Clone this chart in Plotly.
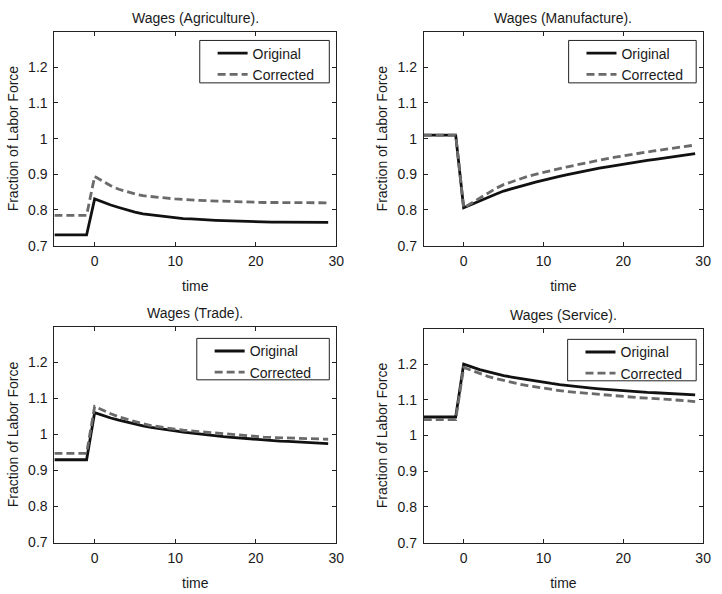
import plotly.graph_objects as go

# ---------------- data ----------------
time = list(range(-5, 30))

agri_original = [0.730]*5 + [0.831, 0.822, 0.814, 0.807, 0.800, 0.794, 0.789, 0.786, 0.783, 0.780,
                             0.778, 0.776, 0.775, 0.773, 0.772, 0.771, 0.770, 0.769, 0.768, 0.768,
                             0.767, 0.767, 0.766, 0.766, 0.766, 0.765, 0.765, 0.765, 0.765, 0.765]
agri_corrected = [0.785]*5 + [0.894, 0.880, 0.868, 0.858, 0.851, 0.845, 0.840, 0.837, 0.835, 0.833,
                              0.831, 0.829, 0.828, 0.827, 0.826, 0.825, 0.824, 0.823, 0.823, 0.822,
                              0.822, 0.821, 0.821, 0.821, 0.820, 0.820, 0.820, 0.820, 0.820, 0.820]

manu_original = [1.010]*5 + [0.806, 0.816, 0.826, 0.835, 0.844, 0.853, 0.860, 0.866, 0.872, 0.878,
                             0.884, 0.889, 0.894, 0.899, 0.904, 0.908, 0.913, 0.917, 0.921, 0.925,
                             0.929, 0.932, 0.936, 0.939, 0.942, 0.945, 0.948, 0.951, 0.955, 0.958]
manu_corrected = [1.010]*5 + [0.806, 0.820, 0.834, 0.847, 0.860, 0.871, 0.879, 0.887, 0.894, 0.900,
                              0.906, 0.911, 0.916, 0.921, 0.926, 0.931, 0.935, 0.939, 0.944, 0.948,
                              0.952, 0.955, 0.959, 0.962, 0.966, 0.969, 0.972, 0.976, 0.979, 0.982]

trade_original = [0.930]*5 + [1.061, 1.053, 1.046, 1.040, 1.034, 1.029, 1.024, 1.020, 1.016, 1.013,
                              1.010, 1.007, 1.004, 1.001, 0.999, 0.996, 0.994, 0.992, 0.990, 0.988,
                              0.987, 0.985, 0.984, 0.982, 0.981, 0.980, 0.979, 0.977, 0.976, 0.975]
trade_corrected = [0.948]*5 + [1.078, 1.067, 1.058, 1.049, 1.042, 1.035, 1.030, 1.025, 1.021, 1.018,
                               1.015, 1.012, 1.010, 1.007, 1.005, 1.003, 1.001, 0.999, 0.997, 0.996,
                               0.994, 0.993, 0.992, 0.991, 0.990, 0.989, 0.988, 0.988, 0.987, 0.987]

serv_original = [1.052]*5 + [1.200, 1.192, 1.185, 1.179, 1.173, 1.168, 1.164, 1.160, 1.156, 1.152,
                             1.149, 1.146, 1.143, 1.140, 1.137, 1.135, 1.133, 1.131, 1.129, 1.127,
                             1.126, 1.124, 1.123, 1.121, 1.120, 1.119, 1.117, 1.116, 1.115, 1.114]
serv_corrected = [1.045]*5 + [1.191, 1.182, 1.174, 1.166, 1.160, 1.154, 1.149, 1.144, 1.140, 1.136,
                              1.132, 1.129, 1.126, 1.123, 1.121, 1.119, 1.117, 1.115, 1.113, 1.111,
                              1.109, 1.108, 1.106, 1.105, 1.104, 1.103, 1.101, 1.099, 1.097, 1.095]

titles = ["Wages (Agriculture).", "Wages (Manufacture).", "Wages (Trade).", "Wages (Service)."]
series_names = ["Original", "Corrected"]
x_ticks = [0, 10, 20, 30]
y_ticks = [0.7, 0.8, 0.9, 1.0, 1.1, 1.2]
y_ticktext = ["0.7", "0.8", "0.9", "1", "1.1", "1.2"]
x_label = "time"
y_label = "Fraction of Labor Force"

# ---------------- figure ----------------
W, H = 722, 594
FONT = "Liberation Sans, Arial, Helvetica, sans-serif"
TXT = "#1a1a1a"

# (data, data, x-pixels of axes box, y-pixels of axes box, legend box x-pixels, legend box y-pixels)
panels = [
    (agri_original, agri_corrected, (55, 340), (32, 249), (202, 333), (41, 84)),
    (manu_original, manu_corrected, (428.5, 711), (32, 249), (575, 704), (41, 84)),
    (trade_original, trade_corrected, (55, 340), (331, 550), (199, 333), (343, 385)),
    (serv_original, serv_corrected, (428.5, 711), (333, 550), (574, 704), (344, 386)),
]

fig = go.Figure()
layout = dict(
    width=W, height=H, autosize=False,
    margin=dict(l=0, r=0, t=0, b=0),
    paper_bgcolor="white", plot_bgcolor="white",
    font=dict(family=FONT, size=14, color=TXT),
    showlegend=True,
    annotations=[],
    shapes=[],
)

for i, (orig, corr, (x0, x1), (y0, y1), (lx0, lx1), (ly0, ly1)) in enumerate(panels):
    n = i + 1
    sfx = "" if n == 1 else str(n)
    leg = "legend" if n == 1 else "legend" + str(n)
    fig.add_trace(go.Scatter(x=time, y=orig, mode="lines", name=series_names[0],
                             line=dict(color="#111111", width=2.8),
                             xaxis="x" + sfx, yaxis="y" + sfx, legend=leg))
    fig.add_trace(go.Scatter(x=time, y=corr, mode="lines", name=series_names[1],
                             line=dict(color="#6a6a6a", width=2.8, dash="8px,4px"),
                             xaxis="x" + sfx, yaxis="y" + sfx, legend=leg))
    common = dict(showline=True, linecolor="#222222", linewidth=1, mirror="ticks",
                  ticks="inside", ticklen=4, tickcolor="#222222", showgrid=False,
                  zeroline=False, tickfont=dict(size=14, color=TXT))
    layout["xaxis" + sfx] = dict(common, domain=[x0 / W, x1 / W], range=[-5, 30],
                                 tickvals=x_ticks, anchor="y" + sfx, ticklabelstandoff=3,
                                 title=dict(text=x_label, standoff=12, font=dict(size=14)))
    layout["yaxis" + sfx] = dict(common, domain=[1 - y1 / H, 1 - y0 / H], range=[0.7, 1.3],
                                 tickvals=y_ticks, ticktext=y_ticktext, anchor="x" + sfx,
                                 ticklabelstandoff=3,
                                 title=dict(text=y_label, standoff=6, font=dict(size=14)))
    # legend frame
    layout["shapes"].append(dict(type="rect", xref="paper", yref="paper",
                                 x0=lx0 / W, x1=lx1 / W, y0=1 - ly1 / H, y1=1 - ly0 / H,
                                 fillcolor="white", line=dict(color="#222222", width=1),
                                 layer="above"))
    layout[leg] = dict(x=(lx0 + 13) / W, y=1 - (ly0 - 3) / H, xanchor="left", yanchor="top",
                       bgcolor="rgba(0,0,0,0)", borderwidth=0,
                       font=dict(size=14, color=TXT), tracegroupgap=0,
                       itemwidth=30)
    layout["annotations"].append(dict(text=titles[i], xref="paper", yref="paper",
                                      x=(x0 + x1) / 2 / W, y=1 - (y0 - 14) / H,
                                      xanchor="center", yanchor="middle", showarrow=False,
                                      font=dict(size=14, color=TXT)))

fig.update_layout(**layout)
fig.write_html("out.html", config={"displayModeBar": False, "responsive": False},
               post_script=("document.documentElement.style.margin='0';"
                            "document.documentElement.style.padding='0';"
                            "document.documentElement.style.overflow='hidden';"
                            "document.body.style.margin='0';"
                            "document.body.style.padding='0';"
                            "document.body.style.overflow='hidden';"))
